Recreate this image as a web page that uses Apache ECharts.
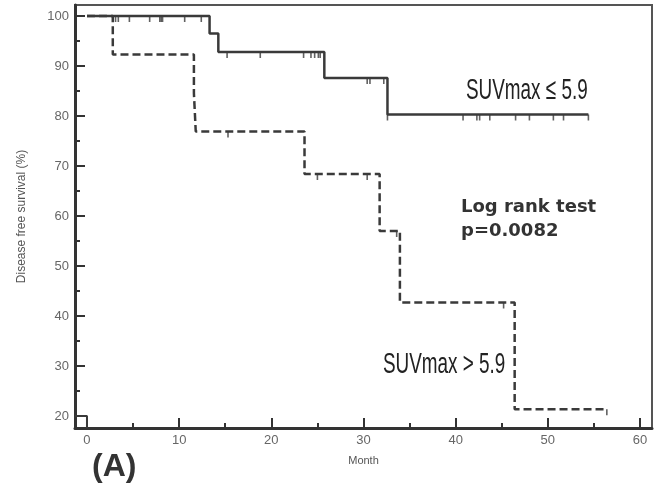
<!DOCTYPE html>
<html>
<head>
<meta charset="utf-8">
<script src="https://cdn.jsdelivr.net/npm/echarts@6.0.0/dist/echarts.min.js"></script>
<style>
  html, body { margin: 0; padding: 0; background: #fff; }
  #km-chart { width: 656px; height: 486px; }
</style>
</head>
<body>
<div id="km-chart"></div>
<script>
// Kaplan-Meier steps: [month, survival %]
const lowSuvSteps = [[0, 100], [13.3, 96.5], [14.25, 92.8], [25.75, 87.6], [32.6, 80.3], [54.4, 80.3]];
const highSuvSteps = [[0, 100], [2.8, 92.3], [11.6, 84.6], [11.8, 76.9], [23.6, 68.4], [31.75, 57.0], [33.95, 42.7], [46.4, 21.35], [56.4, 21.35]];

// censored cases (the little tick marks)
const lowSuvCensored = [
  [3.1, 100], [3.4, 100], [4.6, 100], [6.8, 100], [7.9, 100], [8.05, 100], [8.2, 100], [10.6, 100], [12.4, 100],
  [15.2, 92.8], [18.8, 92.8], [23.5, 92.8], [24.3, 92.8], [24.7, 92.8], [25.1, 92.8], [25.3, 92.8],
  [30.4, 87.6], [30.7, 87.6], [32.2, 87.6],
  [32.6, 80.3], [40.8, 80.3], [42.3, 80.3], [42.6, 80.3], [43.7, 80.3], [46.5, 80.3], [48.0, 80.3], [50.6, 80.3], [51.7, 80.3], [54.4, 80.3]
];
const highSuvCensored = [[15.3, 76.9], [25.0, 68.4], [30.4, 68.4], [33.6, 57.0], [45.2, 42.7], [56.4, 21.35]];

// odd little corner at the origin of the plot
const originMark = [[-1.3, 20], [0, 20], [0, 17.6]];

const xTicks = [0, 10, 20, 30, 40, 50, 60];
const xMinorTicks = [5, 15, 25, 35, 45, 55];
const yTicks = [20, 30, 40, 50, 60, 70, 80, 90, 100];
const yMinorTicks = [25, 35, 45, 55, 65, 75, 85, 95];

const X_MIN = -1.3, X_MAX = 61.3;
const Y_MIN = 17.6, Y_MAX = 102.2;
const INK = '#3a3a3a';

const chart = echarts.init(document.getElementById('km-chart'));

const tickMark = (data) => ({
  type: 'scatter',
  data: data,
  symbol: 'rect',
  symbolSize: [1.6, 6],
  symbolOffset: [0, '50%'],
  itemStyle: { color: INK },
  silent: true,
  z: 3
});

chart.setOption({
  animation: false,
  grid: {
    left: 75, right: 4, top: 5, bottom: 58,
    show: true, borderColor: '#555', borderWidth: 2
  },
  xAxis: [
    {
      type: 'value', min: X_MIN, max: X_MAX,
      name: 'Month', nameLocation: 'middle', nameGap: 27,
      nameTextStyle: { color: '#555', fontSize: 11, fontFamily: 'Liberation Sans' },
      axisLine: { onZero: false, lineStyle: { color: '#333', width: 3 } },
      axisTick: { inside: true, length: 10, customValues: xTicks, lineStyle: { color: '#333', width: 2 } },
      axisLabel: { customValues: xTicks, color: '#666', fontSize: 13, margin: 6, fontFamily: 'Liberation Sans' },
      splitLine: { show: false }
    },
    {
      type: 'value', min: X_MIN, max: X_MAX, position: 'bottom',
      axisLine: { show: false, onZero: false },
      axisTick: { inside: true, length: 5, customValues: xMinorTicks, lineStyle: { color: '#333', width: 2 } },
      axisLabel: { show: false },
      splitLine: { show: false }
    }
  ],
  yAxis: [
    {
      type: 'value', min: Y_MIN, max: Y_MAX,
      name: 'Disease free survival (%)', nameLocation: 'middle', nameGap: 47,
      nameTextStyle: { color: '#555', fontSize: 12, fontFamily: 'Liberation Sans' },
      axisLine: { show: true, onZero: false, lineStyle: { color: '#333', width: 3 } },
      axisTick: { show: true, inside: true, length: 10, customValues: yTicks, lineStyle: { color: '#333', width: 2 } },
      axisLabel: { customValues: yTicks, color: '#666', fontSize: 13, margin: 6, fontFamily: 'Liberation Sans' },
      splitLine: { show: false }
    },
    {
      type: 'value', min: Y_MIN, max: Y_MAX, position: 'left',
      axisLine: { show: false, onZero: false },
      axisTick: { show: true, inside: true, length: 5, customValues: yMinorTicks, lineStyle: { color: '#333', width: 2 } },
      axisLabel: { show: false },
      splitLine: { show: false }
    }
  ],
  series: [
    {
      type: 'line', step: 'end', data: lowSuvSteps, showSymbol: false,
      lineStyle: { color: INK, width: 2.5 }, silent: true, z: 4
    },
    {
      type: 'line', step: 'end', data: highSuvSteps, showSymbol: false,
      lineStyle: { color: INK, width: 2.5, type: [8, 4] }, silent: true, z: 4
    },
    {
      type: 'line', data: originMark, showSymbol: false,
      lineStyle: { color: INK, width: 2 }, silent: true
    },
    tickMark(lowSuvCensored),
    tickMark(highSuvCensored)
  ],
  graphic: [
    {
      type: 'text', x: 466, y: 91, scaleX: 0.63,
      style: { text: 'SUVmax \u2264 5.9', font: '30px "Liberation Sans"', fill: '#222', textAlign: 'left', textVerticalAlign: 'middle' }
    },
    {
      type: 'text', x: 383, y: 365, scaleX: 0.63,
      style: { text: 'SUVmax > 5.9', font: '30px "Liberation Sans"', fill: '#222', textAlign: 'left', textVerticalAlign: 'middle' }
    },
    {
      type: 'text', x: 461, y: 207,
      style: { text: 'Log rank test', font: 'bold 18px "DejaVu Sans"', fill: '#333', textAlign: 'left', textVerticalAlign: 'middle' }
    },
    {
      type: 'text', x: 461, y: 231,
      style: { text: 'p=0.0082', font: 'bold 18px "DejaVu Sans"', fill: '#333', textAlign: 'left', textVerticalAlign: 'middle' }
    },
    {
      type: 'text', x: 92, y: 467,
      style: { text: '(A)', font: 'bold 32px "Liberation Sans"', fill: '#333', textAlign: 'left', textVerticalAlign: 'middle' }
    }
  ]
});
</script>
</body>
</html>
